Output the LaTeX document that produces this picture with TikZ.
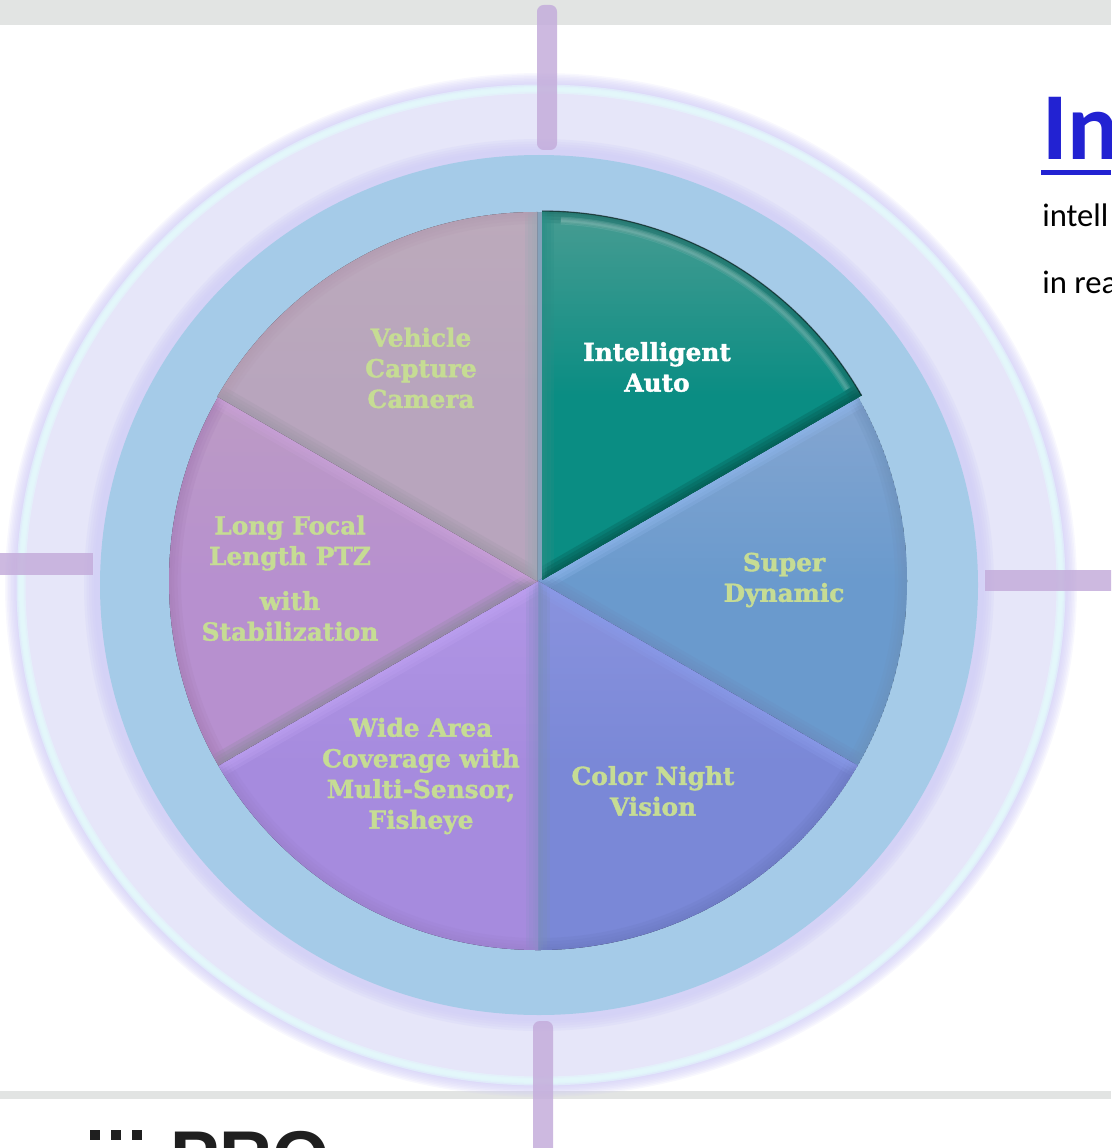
\documentclass[tikz,border=0pt]{standalone}
\usepackage{fontspec}
\setmainfont{Carlito}
\newfontfamily\slabfont[BoldFeatures={FakeBold=1.6}]{DejaVu Serif}
\newfontfamily\logofont{Liberation Sans}
\definecolor{barcol}{HTML}{C4ADDB}
\definecolor{bandcol}{HTML}{E2E4E3}
\definecolor{ringcol}{HTML}{E6E6F9}
\definecolor{glowcol}{HTML}{CFCBF6}
\definecolor{edgecol}{HTML}{E3FAFB}
\definecolor{diskcol}{HTML}{A5CBE8}
\definecolor{labelcol}{HTML}{C6DC94}
\definecolor{headcol}{HTML}{2222D2}
\usetikzlibrary{calc}
\tikzset{
  slicelabel/.style={font=\slabfont\bfseries\fontsize{18.6}{23}\selectfont, align=center, text=labelcol, inner sep=0pt},
  crossbar/.style={fill=barcol, opacity=.85},
  bodytext/.style={anchor=base west, inner sep=0pt, font=\fontsize{24.5}{30}\selectfont},
}
\begin{document}
\begin{tikzpicture}[x=.75pt, y=-.75pt]
\useasboundingbox [clip] (0,0) rectangle (1111,1148);

% page bands
\fill [bandcol] (0,0) rectangle (1111,25);
\fill [bandcol] (0,1091) rectangle (1111,1099);

% rings
\foreach \w in {26,23,20,17,14,11,8,5}
  \draw [glowcol, line width=\w*.75pt, opacity=.14] (541,585) ellipse [x radius=523, y radius=499];
\fill [ringcol] (541,585) ellipse [x radius=521, y radius=497];
\foreach \w in {9,6,4}
  \draw [edgecol, line width=\w*.75pt, opacity=.55] (541,585) ellipse [x radius=520, y radius=496];
\foreach \w in {28,23,18,13,8}
  \draw [glowcol, line width=\w*.75pt, opacity=.22] (539,585) ellipse [x radius=441, y radius=432];
\fill [diskcol] (539,585) ellipse [x radius=439, y radius=430];

% the seam between first and last slice
\fill [black!20!diskcol] (536,212) rectangle (544,580);

% slices: apex, start angle, fill colours, colours of the three edges
\foreach \nm/\cx/\cy/\a/\ctop/\cbot/\ea/\eb/\ec in {
    super/538/581/-30/85A6D1/6A9ACD/90B8EE/6E92BC/6A8CC0,
    night/538/581/30/8A93DE/7A88D7/8A9CEA/6C78C0/7C8EBC,
    wide/538/581/90/B196E5/A68BDE/8D8ECA/9A80CC/BFA2F2,
    long/538/581/150/BC9BC4/B790CF/8E8A9E/A67EB6/CBA2DA,
    vehicle/537/581/210/BCAABB/B8A5BD/A098A8/B29AB0/9EA8B4,
    auto/542/580/-90/479C92/0A8D83/2A8E86/1A6A64/05564E}
{
  \pgfmathsetmacro\b{\a+60}
  \definecolor{ctop}{HTML}{\ctop}
  \definecolor{cbot}{HTML}{\cbot}
  \definecolor{ea}{HTML}{\ea}
  \definecolor{eb}{HTML}{\eb}
  \definecolor{ec}{HTML}{\ec}
  \coordinate (\nm-apex) at (\cx,\cy);
  \coordinate (\nm-start) at ($(\nm-apex)+(\a:369)$);
  \coordinate (\nm-end) at ($(\nm-apex)+(\b:369)$);
  \begin{scope}
    \clip (\nm-apex) -- (\nm-start) arc [start angle=\a, end angle=\b, radius=369] -- cycle;
    \fill [top color=ctop, bottom color=cbot, middle color=cbot] (\nm-apex) -- (\nm-start) arc [start angle=\a, end angle=\b, radius=369] -- cycle;
    \foreach \w in {18,13,8,4} {
      \draw [eb, line width=\w pt, opacity=.22] (\nm-start) arc [start angle=\a, end angle=\b, radius=369];
      \draw [ea, line width=\w pt, opacity=.28] (\nm-apex) -- (\nm-start);
      \draw [ec, line width=\w pt, opacity=.28] (\nm-apex) -- (\nm-end);
    }
  \end{scope}
}

% light line under the arc of the first slice
\foreach \w in {6,4,2}
  \draw [white, line width=\w pt, opacity=.09] ($(auto-apex)+(-87:360)$) arc [start angle=-87, end angle=-32, radius=360];
\draw [black, line width=1pt, opacity=.45] (auto-start) arc [start angle=-90, end angle=-30, radius=369];

% crossbars
\fill [crossbar, rounded corners=5pt] (537,5) rectangle (557,150);
\fill [crossbar, rounded corners=5pt] (533,1021) rectangle (553,1160);
\fill [crossbar] (0,553) rectangle (93,575);
\fill [crossbar] (985,570) rectangle (1120,591);

% labels
\node [slicelabel, text=white] (auto-label) at (657,367) {Intelligent\\Auto};
\node [slicelabel] (super-label) at (784,580) {Super\\Dynamic};
\node [slicelabel] (night-label) at (653,791) {Color Night\\Vision};
\node [slicelabel] (wide-label) at (421,776) {Wide Area\\Coverage with\\Multi-Sensor,\\Fisheye};
\node [slicelabel] (long-label) at (290,543) {Long Focal\\Length PTZ};
\node [slicelabel] (stab-label) at (290,616) {with\\Stabilization};
\node [slicelabel] (vehicle-label) at (421,368) {Vehicle\\Capture\\Camera};

% text at the right, cut by the page
\node [anchor=base west, inner sep=0pt, text=headcol, font=\bfseries\fontsize{72}{80}\selectfont] (head) at (1042,160) {In};
\fill [headcol] (1041,170) rectangle (1111,175);
\node [bodytext] (line-one) at (1042,227) {intell};
\node [bodytext] (line-two) at (1042,293) {in rea};

% logo, cut by the page
\foreach \d in {90,111,132}
  \fill [black!88] (\d,1130) rectangle +(10,10);
\node [anchor=base west, inner sep=0pt, text=black!88, font=\logofont\bfseries\fontsize{55}{60}\selectfont] (logo) at (170,1182) {PRO};
\end{tikzpicture}
\end{document}
